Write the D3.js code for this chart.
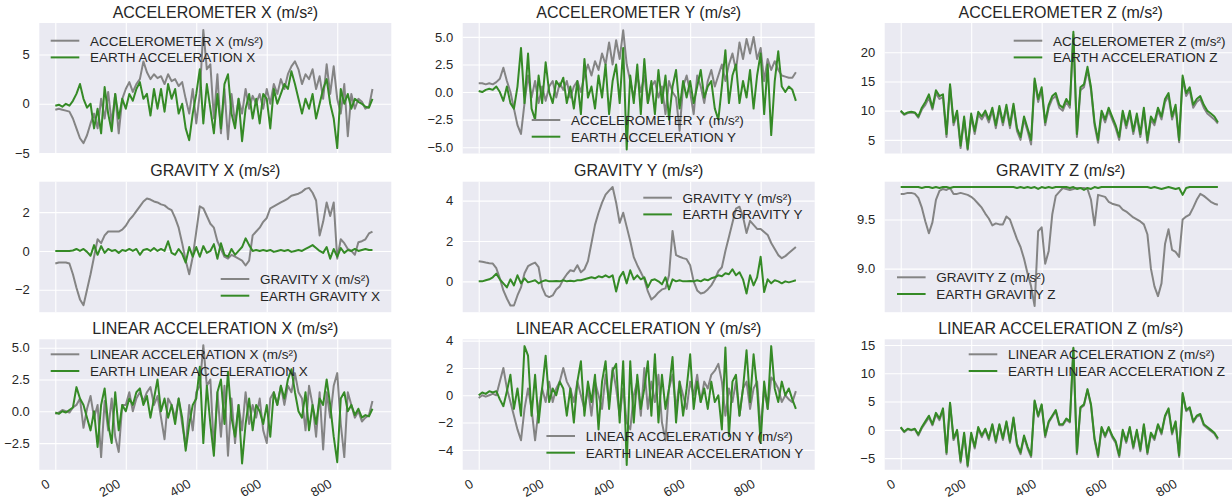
<!DOCTYPE html>
<html>
<head>
<meta charset="utf-8">
<script src="https://cdn.jsdelivr.net/npm/d3@7"></script>
<style>
  body { margin: 0; background: #fff; }
  svg text { font-family: "Liberation Sans", Arial, sans-serif; fill: #262626; }
</style>
</head>
<body>
<svg id="chart"></svg>
<script>
// Layout
const WIDTH = 1232;
const HEIGHT = 502;
const COL_X = [39.3, 462.7, 884.7];
const ROW_Y = [23, 181.7, 339.3];
const PLOT_W = 352;
const PLOT_H = 130.5;
const GRAY = '#848484';
const GREEN = '#358a26';

// Shared x axis (sample index, every 10th sample)
const X_DOMAIN = [-45.4, 953.4];
const X_TICKS = [0, 200, 400, 600, 800];
const SAMPLE_INDEX = d3.range(0, 901, 10);

// Accelerometer
const ACC_X = [
  -0.6, -0.5, -0.6, -0.7, -0.8, -1.5, -2.5, -3.5, -4.0, -3.2,
  -2.0, -1.0, -2.5, 0.5, -1.5, 1.2, -2.0, 1.0, -3.0, 0.5,
  1.5, 2.2, 1.2, 2.0, 2.5, 4.3, 3.2, 2.5, 3.0, 2.6,
  2.8, 2.0, 3.0, 2.3, 2.5, 1.8, 2.2, 0.5, -1.0, 1.5,
  -2.0, 1.0, 7.5, 3.5, 4.0, -1.5, 3.0, -3.0, 1.5, -3.6,
  1.0, -2.0, 0.5, -1.0, 1.5, -0.5, 0.8, 0.0, 1.0, -0.5,
  1.5, 0.0, 2.0, 1.0, 2.5, 1.5, 3.0, 3.8, 4.3, 3.5,
  2.0, 3.0, 2.5, 3.5, 1.5, 2.8, 0.5, 4.0, 1.0, 3.8,
  0.5, -1.0, 2.0, -3.3, 1.0, -0.5, 0.5, 0.2, -0.5, -0.3,
  1.5,
];
const EARTH_ACC_X = [
  -0.2, -0.1, -0.3, 0.0, -0.2, 0.3, 1.0, 2.0, 0.5, -0.4,
  0.0, -2.5, -0.5, -3.0, 1.7, -1.0, -2.8, 1.0, -1.5, 0.5,
  -0.5, 1.0, 0.3, 1.5, 2.2, 0.5, 1.0, -1.2, 1.5, -0.5,
  1.5, -0.8, 2.0, 0.5, 1.5, -1.0, 0.0, -2.5, -3.7, -1.0,
  1.0, 3.5, -2.0, 2.0, -0.5, -3.0, 1.0, -2.5, 2.0, 3.0,
  -1.0, -2.5, 0.5, -3.8, -0.5, 1.0, -1.5, 0.5, -2.0, 1.0,
  0.5, -2.5, 1.5, 0.0, 1.0, 2.0, 1.5, 3.3, 2.0, 0.5,
  -1.0, 0.5, -0.5, 1.0, -1.5, 0.0, 1.5, 2.5, 0.0, -1.5,
  -4.5, 1.5, 0.0, 1.0, -0.5, 0.5, 0.2, 0.0, -0.3, -0.4,
  0.5,
];
const ACC_Y = [
  0.8, 0.8, 0.7, 0.8, 0.7, 0.9, 1.2, 2.2, 1.0, 0.0,
  -1.5, -3.0, -3.8, -1.0, 1.5, -0.5, 1.0, -1.0, 0.5, -0.8,
  0.5, 1.0, -0.5, 0.8, 0.2, 1.0, -0.5, 0.5, 1.0, 0.0,
  1.5, 2.5, 1.5, 2.8, 2.0, 3.5, 2.5, 4.5, 2.5, 4.7,
  3.0, 5.6, 2.5, 1.0, -0.5, 1.5, 0.0, 1.5, -1.0, 0.5,
  1.0, -0.5, 0.5, -2.0, 1.0, 0.0, -0.5, -3.5, 0.5, 1.5,
  0.0, -2.0, 1.5, 0.5, -1.0, 1.0, 2.0, 0.5, 1.5, 2.5,
  1.0, 2.5, 3.5, 2.0, 4.5, 3.0, 4.8, 3.5, 5.0, 3.0,
  4.0, 1.0, 3.0, 2.0, 2.8, 2.0, 1.5, 1.4, 1.3, 1.3,
  1.8,
];
const EARTH_ACC_Y = [
  0.1, 0.0, 0.2, 0.3, 0.2, 0.5, 0.0, -0.8, 0.5, -1.0,
  -1.5, 0.5, 4.0, -1.0, 3.5, -1.5, -2.5, 1.5, -1.0, 2.7,
  0.0, -1.0, 1.0, 0.5, 1.3, -1.0, 0.5, -1.5, 1.0, -2.0,
  3.0, -0.5, 0.5, -1.5, 1.5, -0.5, 2.5, -2.0, 1.0, 2.5,
  -1.0, 4.0, -5.2, 1.5, -1.0, 2.5, -2.0, 3.0, -1.0, 1.0,
  -2.0, 2.0, -1.0, 1.5, -2.5, 0.5, 2.0, -1.5, 1.0, -0.5,
  1.0, -1.0, 0.5, 2.0, -0.5, 0.5, 1.0, -1.5, -2.5, 0.5,
  3.8, -1.0, 1.5, 2.5, -1.0, 1.0, -0.5, 2.0, -1.5, 1.5,
  3.5, -2.0, 2.5, -3.9, 1.0, 3.7, 0.5, 0.0, 0.5, 0.2,
  -0.8,
];
const ACC_Z = [
  9.9, 9.3, 9.6, 9.7, 9.6, 8.8, 10.2, 11.0, 12.2, 10.2,
  13.0, 12.0, 12.3, 5.5, 14.2, 7.5, 9.5, 3.6, 8.5, 3.3,
  9.0, 6.0, 9.3, 8.5, 9.5, 8.0, 10.0, 7.0, 10.3, 7.5,
  10.5, 7.0, 10.8, 6.5, 5.0, 8.5, 6.5, 4.2, 15.0, 11.5,
  13.5, 7.5, 10.5, 12.0, 12.5, 10.5, 10.0, 11.5, 10.5, 23.0,
  5.5, 13.5, 14.0, 17.0, 13.5, 7.5, 4.5, 9.5, 8.0, 10.0,
  8.5, 7.0, 5.0, 9.5, 7.0, 9.5, 6.0, 9.0, 5.5, 10.0,
  4.5, 8.5, 7.5, 10.0, 8.5, 11.5, 12.5, 8.5, 10.5, 4.6,
  15.5, 12.5, 13.5, 10.5, 11.5, 12.0, 10.5, 9.5, 9.0, 8.5,
  7.8,
];
const EARTH_ACC_Z = [
  10.0, 9.4, 9.7, 9.8, 9.7, 9.0, 10.5, 11.5, 12.8, 10.5,
  13.5, 12.5, 12.8, 6.0, 14.5, 8.0, 10.0, 4.0, 9.0, 3.5,
  9.5, 6.5, 9.8, 9.0, 10.0, 8.5, 10.5, 7.5, 10.8, 8.0,
  11.0, 7.5, 11.2, 7.0, 5.5, 9.0, 7.0, 5.0, 15.5, 12.0,
  14.0, 8.0, 11.0, 12.5, 13.0, 11.0, 10.5, 12.0, 11.0, 23.5,
  6.0, 14.0, 14.5, 17.5, 14.0, 8.0, 5.0, 10.0, 8.5, 10.5,
  9.0, 7.5, 5.5, 10.0, 7.5, 10.0, 6.5, 9.5, 6.0, 10.5,
  5.0, 9.0, 8.0, 10.5, 9.0, 12.0, 13.0, 9.0, 11.0, 5.0,
  16.0, 13.0, 14.0, 11.0, 12.0, 12.5, 11.0, 10.0, 9.5, 9.0,
  8.0,
];

// Gravity
const GRAVITY_X = [
  -0.65, -0.6, -0.6, -0.6, -0.65, -1.2, -1.9, -2.5, -2.8, -2.0,
  -1.2, -0.3, 0.6, 0.4, 0.8, 1.0, 1.0, 1.0, 1.0, 1.1,
  1.3, 1.6, 1.8, 2.05, 2.3, 2.55, 2.7, 2.65, 2.55, 2.5,
  2.4, 2.35, 2.2, 2.1, 1.7, 1.2, 0.4, -0.5, -1.2, -0.3,
  1.0, 2.3, 2.2, 1.8, 1.4, 1.2, 0.5, 0.1, -0.3, -0.4,
  -0.2, -0.3, -0.4, -0.5, -0.75, -0.5, 0.8, 1.0, 1.2, 1.5,
  1.7, 2.2, 2.3, 2.4, 2.5, 2.6, 2.7, 2.85, 2.9, 2.95,
  3.05, 3.2, 3.25, 3.0, 2.6, 0.8, 1.5, 2.5, 1.8, 2.5,
  -0.4, 0.6, 0.4, 0.1, 0.0, -0.2, 0.45, 0.5, 0.6, 0.9,
  1.0,
];
const EARTH_GRAVITY_X = [
  0.0, 0.0, 0.0, 0.0, 0.0, 0.02, 0.1, 0.0, 0.1, -0.05,
  -0.25, 0.3, -0.2, 0.25, -0.1, 0.1, 0.0, 0.05, -0.1, 0.05,
  0.0, 0.1, 0.0, 0.1, -0.2, 0.05, 0.1, 0.0, 0.15, 0.0,
  0.1, 0.0, 0.5, -0.1, -0.2, 0.1, -0.15, -0.6, 0.2, -0.3,
  0.2, -0.3, 0.25, -0.1, 0.0, 0.35, -0.4, 0.4, -0.2, -0.3,
  0.1, -0.2, 0.0, 0.2, 0.65, 0.3, 0.0, 0.05, 0.0, 0.05,
  0.0, 0.05, -0.05, 0.0, 0.05, 0.0, 0.05, -0.05, 0.0, 0.05,
  0.0, 0.1, 0.2, 0.3, 0.15, 0.0, -0.1, 0.2, -0.4, 0.1,
  -0.3, 0.15, -0.1, 0.05, 0.0, 0.1, 0.0, 0.05, 0.1, 0.05,
  0.05,
];
const GRAVITY_Y = [
  1.0, 0.97, 0.93, 0.9, 0.88, 0.65, 0.15, -0.45, -0.85, -1.2,
  -1.2, -0.7, -0.3, 0.4, 0.75, 0.85, 0.93, 0.7, -0.3, -0.7,
  -0.78, -0.7, -0.4, -0.25, 0.1, 0.35, 0.55, 0.5, 0.8, 0.45,
  0.6, 1.0, 1.9, 2.8, 3.4, 3.9, 4.3, 4.5, 4.68, 3.9,
  2.9, 3.4, 2.7, 2.0, 1.2, 0.8, 0.45, 0.1, -0.5, -0.9,
  -0.75, -0.55, -0.4, -0.35, 0.3, 2.5, 1.3, 1.22, 1.15, 1.1,
  0.8, 0.0, -0.45, -0.6, -0.55, -0.4, -0.2, 0.1, 0.5, 0.7,
  1.5, 2.2, 2.9, 3.6, 3.7, 3.2, 2.4, 3.0, 2.8, 2.6,
  2.6, 2.45, 2.3, 1.9, 1.6, 1.3, 1.15, 1.25, 1.4, 1.55,
  1.7,
];
const EARTH_GRAVITY_Y = [
  0.0, 0.0, 0.05, 0.1, 0.2, 0.38, 0.1, -0.1, -0.3, 0.1,
  -0.2, 0.3, -0.1, 0.15, -0.05, 0.0, 0.05, -0.1, 0.0, 0.05,
  0.0, 0.0, 0.02, 0.0, 0.05, 0.0, 0.03, 0.0, 0.05, 0.05,
  0.1, 0.15, 0.2, 0.15, 0.25, 0.2, 0.3, 0.2, 0.3, -0.5,
  0.2, 0.47, -0.1, 0.55, 0.1, 0.3, 0.1, 0.2, -0.3, 0.05,
  0.1, 0.0, -0.15, 0.2, -0.4, 0.1, 0.0, 0.05, 0.0, 0.0,
  0.02, 0.0, 0.05, 0.0, 0.1, 0.05, 0.15, 0.2, 0.3, 0.25,
  0.4, 0.35, 0.6, 0.3, 0.45, 0.1, -0.6, 0.3, -0.2, 0.2,
  1.22, -0.53, 0.1, -0.1, 0.05, 0.0, -0.1, 0.0, -0.05, 0.0,
  0.05,
];
const GRAVITY_Z = [
  9.76, 9.76, 9.77, 9.77, 9.76, 9.72, 9.62, 9.48, 9.36, 9.47,
  9.70, 9.79, 9.81, 9.80, 9.82, 9.76, 9.76, 9.77, 9.76, 9.75,
  9.73, 9.70, 9.66, 9.62, 9.56, 9.51, 9.44, 9.46, 9.45, 9.45,
  9.53, 9.50, 9.40, 9.30, 9.22, 9.10, 8.95, 8.82, 8.62, 9.38,
  9.42, 9.05, 9.18, 9.55, 9.74, 9.78, 9.82, 9.81, 9.80, 9.81,
  9.82, 9.82, 9.82, 9.81, 9.70, 9.44, 9.75, 9.74, 9.73, 9.68,
  9.66, 9.65, 9.64, 9.60, 9.58, 9.55, 9.52, 9.50, 9.48, 9.45,
  9.35, 9.00, 8.82, 8.72, 8.85, 9.25, 9.40, 9.19, 9.17, 9.12,
  9.50, 9.53, 9.55, 9.62, 9.70, 9.76, 9.74, 9.71, 9.68, 9.66,
  9.65,
];
const EARTH_GRAVITY_Z = [
  9.83, 9.83, 9.83, 9.83, 9.83, 9.83, 9.82, 9.83, 9.83, 9.82,
  9.83, 9.82, 9.83, 9.83, 9.82, 9.83, 9.83, 9.83, 9.83, 9.83,
  9.83, 9.83, 9.83, 9.83, 9.83, 9.83, 9.83, 9.83, 9.83, 9.83,
  9.83, 9.83, 9.83, 9.82, 9.83, 9.82, 9.83, 9.82, 9.83, 9.81,
  9.83, 9.82, 9.83, 9.82, 9.83, 9.83, 9.83, 9.83, 9.82, 9.83,
  9.81, 9.82, 9.80, 9.82, 9.81, 9.83, 9.82, 9.83, 9.83, 9.83,
  9.83, 9.83, 9.83, 9.83, 9.83, 9.83, 9.83, 9.83, 9.83, 9.83,
  9.83, 9.82, 9.83, 9.82, 9.81, 9.82, 9.83, 9.82, 9.81, 9.82,
  9.75, 9.82, 9.83, 9.83, 9.83, 9.83, 9.83, 9.83, 9.83, 9.83,
  9.83,
];

// Linear acceleration
const LIN_ACC_X = [
  -0.2, -0.1, 0.1, 0.0, -0.1, 0.3, 0.5, 1.0, -1.3, 0.2,
  1.2, -0.5, 0.5, -3.6, 0.8, -1.5, 1.0, -2.0, -3.2, 0.5,
  0.5, 1.5, 0.0, 1.0, 1.5, 0.8, 1.5, 1.9, 0.5, 1.2,
  -0.5, -2.2, 1.0, 0.5, -0.5, 1.0, -1.0, -2.8, 0.5, -1.5,
  1.5, 2.0, 5.2, 2.0, 2.5, -3.0, 1.5, -2.0, 2.0, -3.5,
  1.0, -2.5, 0.5, -1.5, 1.5, -1.0, 0.5, -0.5, 1.0, -1.5,
  -2.5, 1.0, 1.5, 0.5, 2.0, 0.5, 2.0, 1.5, 3.0, 1.5,
  1.0, -1.5, 2.0, 0.5, -2.0, 1.5, -3.0, 1.5, -0.5, 2.0,
  3.0, -1.0, -3.6, 1.5, 0.5, -0.5, 0.0, -0.8, -0.5, -0.3,
  0.8,
];
const EARTH_LIN_ACC_X = [
  -0.1, -0.2, 0.0, -0.1, 0.1, 0.3, 1.9, 1.0, 0.5, -0.5,
  -1.5, 0.0, -2.8, 0.5, 1.8, -1.0, -2.5, 1.5, -1.5, 0.5,
  0.0, 1.0, 0.5, 1.5, 1.8, 0.5, 1.2, -0.5, 1.0, 2.5,
  0.0, 1.0, -0.5, 0.5, -1.0, 1.0, -0.5, -3.1, -1.0, 0.5,
  1.0, 3.5, -2.5, 2.0, -1.0, -3.5, 1.5, 2.5, -1.0, 3.1,
  -0.5, -2.0, 0.5, -4.1, -1.0, 1.0, -1.5, 0.5, 0.0, -1.0,
  0.5, -2.0, 1.5, 0.5, 2.0, 1.0, 2.5, 3.3, 1.5, 0.0,
  -0.5, 1.5, -1.5, 0.5, -1.0, 1.0, 0.5, 2.5, 0.5, -2.0,
  -4.0, 1.0, 1.5, 0.0, 0.5, -0.3, 0.2, -0.5, -0.3, -0.4,
  0.2,
];
const LIN_ACC_Y = [
  -0.2, 0.0, -0.1, 0.0, 0.1, 0.0, 1.0, 2.0, 0.5, -0.5,
  -1.5, -2.5, -3.3, -1.0, 0.5, -1.0, -3.3, -1.0, 0.5, -0.5,
  1.0, -0.5, 0.5, 1.0, 2.0, 1.0, 0.5, -0.5, 1.0, 0.0,
  -1.0, 0.5, -1.5, 1.0, 0.0, -1.0, 1.5, -0.5, 2.0, 0.5,
  -1.5, 0.5, -2.0, -2.5, 0.0, 1.0, -1.5, 2.0, -1.0, 1.0,
  -0.5, 1.5, -2.0, -3.3, 0.5, 1.5, -1.0, 1.0, 0.0, -1.0,
  1.0, 0.0, 1.5, -0.5, 1.0, 0.5, 1.5, 1.8, 2.3, 1.0,
  -1.5, 0.5, -0.5, 1.0, -1.5, 0.5, 1.0, -1.0, 0.5, 1.0,
  -2.5, 0.5, -1.0, 1.3, 1.0, 0.5, -0.5, 0.0, -0.3, -0.5,
  0.3,
];
const EARTH_LIN_ACC_Y = [
  0.0, 0.2, 0.1, 0.3, 0.2, 0.3, -0.3, -0.8, 0.3, 1.5,
  -1.0, 0.5, -1.5, 3.6, 2.9, -1.5, 1.5, -2.0, 0.5, 2.9,
  -0.5, 0.5, 0.0, 1.0, 0.5, -1.5, 0.5, -2.0, 1.0, 2.5,
  -1.5, 1.0, -0.5, 1.5, -2.5, 1.0, 2.5, -1.0, 1.8, 2.3,
  -2.0, 2.5, -5.1, 2.5, -2.0, 1.5, -1.0, 0.5, 2.5, -1.5,
  3.0, -2.0, 1.5, -1.0, 0.5, 2.8, -2.0, 1.0, -1.5, 0.5,
  3.0, -1.0, 1.0, -0.5, 0.5, -1.0, 1.0, -0.5, 0.0, -2.5,
  3.5, -3.0, 1.0, 1.5, -1.5, 0.5, 3.3, -0.5, 3.0, 0.5,
  -3.5, 1.0, -1.0, 3.6, 0.5, -0.5, 1.0, 0.0, 0.5, -0.3,
  -1.0,
];
const LIN_ACC_Z = [
  0.4, -0.4, 0.1, -0.1, 0.1, -1.0, 0.3, 1.2, 2.2, 0.8,
  2.7, 1.7, 3.5, -4.3, 4.6, -1.8, -0.3, -5.8, -0.8, -6.5,
  -0.8, -3.3, 0.2, -1.3, 0.0, -1.8, 0.8, -2.3, 0.8, -1.8,
  1.3, -2.3, 2.0, -2.8, -4.3, -1.3, -3.3, -4.8, 5.0, 2.3,
  4.3, -1.3, 1.3, 2.3, 3.3, 0.8, 0.8, 1.8, 1.3, 14.3,
  -4.3, 3.8, 4.3, 7.0, 4.3, -1.8, -4.8, 0.3, -1.3, 0.3,
  -1.3, -2.3, -4.8, -0.3, -2.3, 0.3, -3.3, -0.3, -3.8, 0.8,
  -4.3, -0.8, -1.8, 0.8, -0.8, 2.3, 3.6, -0.8, 1.3, -4.8,
  6.3, 3.3, 3.8, 1.3, 2.3, 2.6, 0.8, 0.3, -0.2, -0.7,
  -1.7,
];
const EARTH_LIN_ACC_Z = [
  0.5, -0.3, 0.2, 0.0, 0.2, -0.8, 0.5, 1.5, 2.5, 1.0,
  3.0, 2.0, 3.8, -4.0, 4.8, -1.5, 0.0, -5.5, -0.5, -6.3,
  -0.5, -3.0, 0.5, -1.0, 0.2, -1.5, 1.0, -2.0, 1.0, -1.5,
  1.5, -2.0, 2.2, -2.5, -4.0, -1.0, -3.0, -4.5, 5.2, 2.5,
  4.5, -1.0, 1.5, 2.5, 3.5, 1.0, 1.0, 2.0, 1.5, 14.5,
  -4.0, 4.0, 4.5, 7.2, 4.5, -1.5, -4.5, 0.5, -1.0, 0.5,
  -1.0, -2.0, -4.5, 0.0, -2.0, 0.5, -3.0, 0.0, -3.5, 1.0,
  -4.0, -0.5, -1.5, 1.0, -0.5, 2.5, 3.8, -0.5, 1.5, -4.5,
  6.5, 3.5, 4.0, 1.5, 2.5, 2.8, 1.0, 0.5, 0.0, -0.5,
  -1.5,
];

// Panel setup (row-major); legend = offset of first legend entry inside the plot
const PANELS = [
  { title: 'ACCELEROMETER X (m/s²)', gray: ACC_X, green: EARTH_ACC_X,
    labels: ['ACCELEROMETER X (m/s²)', 'EARTH ACCELERATION X'],
    yDomain: [-5.05, 8.2], yTicks: [-5, 0, 5], fmt: 'd', legend: [11.4, 17.7] },
  { title: 'ACCELEROMETER Y (m/s²)', gray: ACC_Y, green: EARTH_ACC_Y,
    labels: ['ACCELEROMETER Y (m/s²)', 'EARTH ACCELERATION Y'],
    yDomain: [-5.57, 6.26], yTicks: [-5, -2.5, 0, 2.5, 5], fmt: '.1f', legend: [69, 97] },
  { title: 'ACCELEROMETER Z (m/s²)', gray: ACC_Z, green: EARTH_ACC_Z,
    labels: ['ACCELEROMETER Z (m/s²)', 'EARTH ACCELERATION Z'],
    yDomain: [2.67, 25], yTicks: [5, 10, 15, 20], fmt: 'd', legend: [129, 17.7] },
  { title: 'GRAVITY X (m/s²)', gray: GRAVITY_X, green: EARTH_GRAVITY_X,
    labels: ['GRAVITY X (m/s²)', 'EARTH GRAVITY X'],
    yDomain: [-3.16, 3.57], yTicks: [-2, 0, 2], fmt: 'd', legend: [181.4, 97.3] },
  { title: 'GRAVITY Y (m/s²)', gray: GRAVITY_Y, green: EARTH_GRAVITY_Y,
    labels: ['GRAVITY Y (m/s²)', 'EARTH GRAVITY Y'],
    yDomain: [-1.53, 4.94], yTicks: [0, 2, 4], fmt: 'd', legend: [180.6, 16] },
  { title: 'GRAVITY Z (m/s²)', gray: GRAVITY_Z, green: EARTH_GRAVITY_Z,
    labels: ['GRAVITY Z (m/s²)', 'EARTH GRAVITY Z'],
    yDomain: [8.557, 9.884], yTicks: [9.0, 9.5], fmt: '.1f', legend: [12.3, 95.6] },
  { title: 'LINEAR ACCELERATION X (m/s²)', gray: LIN_ACC_X, green: EARTH_LIN_ACC_X,
    labels: ['LINEAR ACCELERATION X (m/s²)', 'EARTH LINEAR ACCELERATION X'],
    yDomain: [-4.6, 5.66], yTicks: [-2.5, 0, 2.5, 5], fmt: '.1f', legend: [11.4, 15] },
  { title: 'LINEAR ACCELERATION Y (m/s²)', gray: LIN_ACC_Y, green: EARTH_LIN_ACC_Y,
    labels: ['LINEAR ACCELERATION Y (m/s²)', 'EARTH LINEAR ACCELERATION Y'],
    yDomain: [-5.46, 4.1], yTicks: [-4, -2, 0, 2, 4], fmt: 'd', legend: [83.7, 96.7] },
  { title: 'LINEAR ACCELERATION Z (m/s²)', gray: LIN_ACC_Z, green: EARTH_LIN_ACC_Z,
    labels: ['LINEAR ACCELERATION Z (m/s²)', 'EARTH LINEAR ACCELERATION Z'],
    yDomain: [-7.06, 16.0], yTicks: [-5, 0, 5, 10, 15], fmt: 'd', legend: [84, 15] },
];

const svg = d3.select('#chart').attr('width', WIDTH).attr('height', HEIGHT);
svg.append('rect').attr('width', WIDTH).attr('height', HEIGHT).attr('fill', '#fff');

const xScale = d3.scaleLinear(X_DOMAIN, [0, PLOT_W]);

PANELS.forEach((p, i) => {
  const col = i % 3;
  const row = Math.floor(i / 3);
  const g = svg.append('g').attr('transform', `translate(${COL_X[col]},${ROW_Y[row]})`);
  const yScale = d3.scaleLinear(p.yDomain, [PLOT_H, 0]);

  // Background
  g.append('rect').attr('width', PLOT_W).attr('height', PLOT_H).attr('fill', '#eaeaf2');

  // Grid + y ticks
  const yAxis = g.append('g')
    .call(d3.axisLeft(yScale).tickValues(p.yTicks).tickSize(-PLOT_W)
      .tickPadding(9.5).tickFormat(d3.format(p.fmt)));
  const xAxis = g.append('g')
    .attr('transform', `translate(0,${PLOT_H})`)
    .call(d3.axisBottom(xScale).tickValues(X_TICKS).tickSize(-PLOT_H)
      .tickFormat(row === 2 ? d3.format('d') : () => ''));
  [yAxis, xAxis].forEach(ax => {
    ax.select('.domain').remove();
    ax.selectAll('line').attr('stroke', '#fff').attr('stroke-width', 1.1);
    ax.selectAll('text').attr('font-size', 13).attr('fill', '#333');
  });
  if (row === 2) {
    xAxis.selectAll('text')
      .attr('x', 0).attr('y', 0).attr('dy', 0)
      .attr('text-anchor', 'end')
      .attr('transform', 'translate(-5,16.5) rotate(-30)');
  }

  // Lines
  const clipId = `clip-${i}`;
  g.append('clipPath').attr('id', clipId)
    .append('rect').attr('width', PLOT_W).attr('height', PLOT_H);
  const line = d3.line()
    .x((d, k) => xScale(SAMPLE_INDEX[k]))
    .y(d => yScale(d));
  [[p.gray, GRAY], [p.green, GREEN]].forEach(([values, color]) => {
    g.append('path')
      .attr('clip-path', `url(#${clipId})`)
      .attr('d', line(values))
      .attr('fill', 'none')
      .attr('stroke', color)
      .attr('stroke-width', 2)
      .attr('stroke-linejoin', 'round');
  });

  // Legend
  const legend = g.append('g').attr('transform', `translate(${p.legend[0]},${p.legend[1]})`);
  p.labels.forEach((label, k) => {
    const item = legend.append('g').attr('transform', `translate(0,${k * 16.7})`);
    item.append('line').attr('x1', 0).attr('x2', 28.6)
      .attr('stroke', k === 0 ? GRAY : GREEN).attr('stroke-width', 2);
    item.append('text').attr('x', 39.3).attr('dy', '0.36em')
      .attr('font-size', 13.5).text(label);
  });

  // Title
  g.append('text')
    .attr('x', PLOT_W / 2).attr('y', -5.5)
    .attr('text-anchor', 'middle')
    .attr('font-size', 16)
    .text(p.title);
});
</script>
</body>
</html>
